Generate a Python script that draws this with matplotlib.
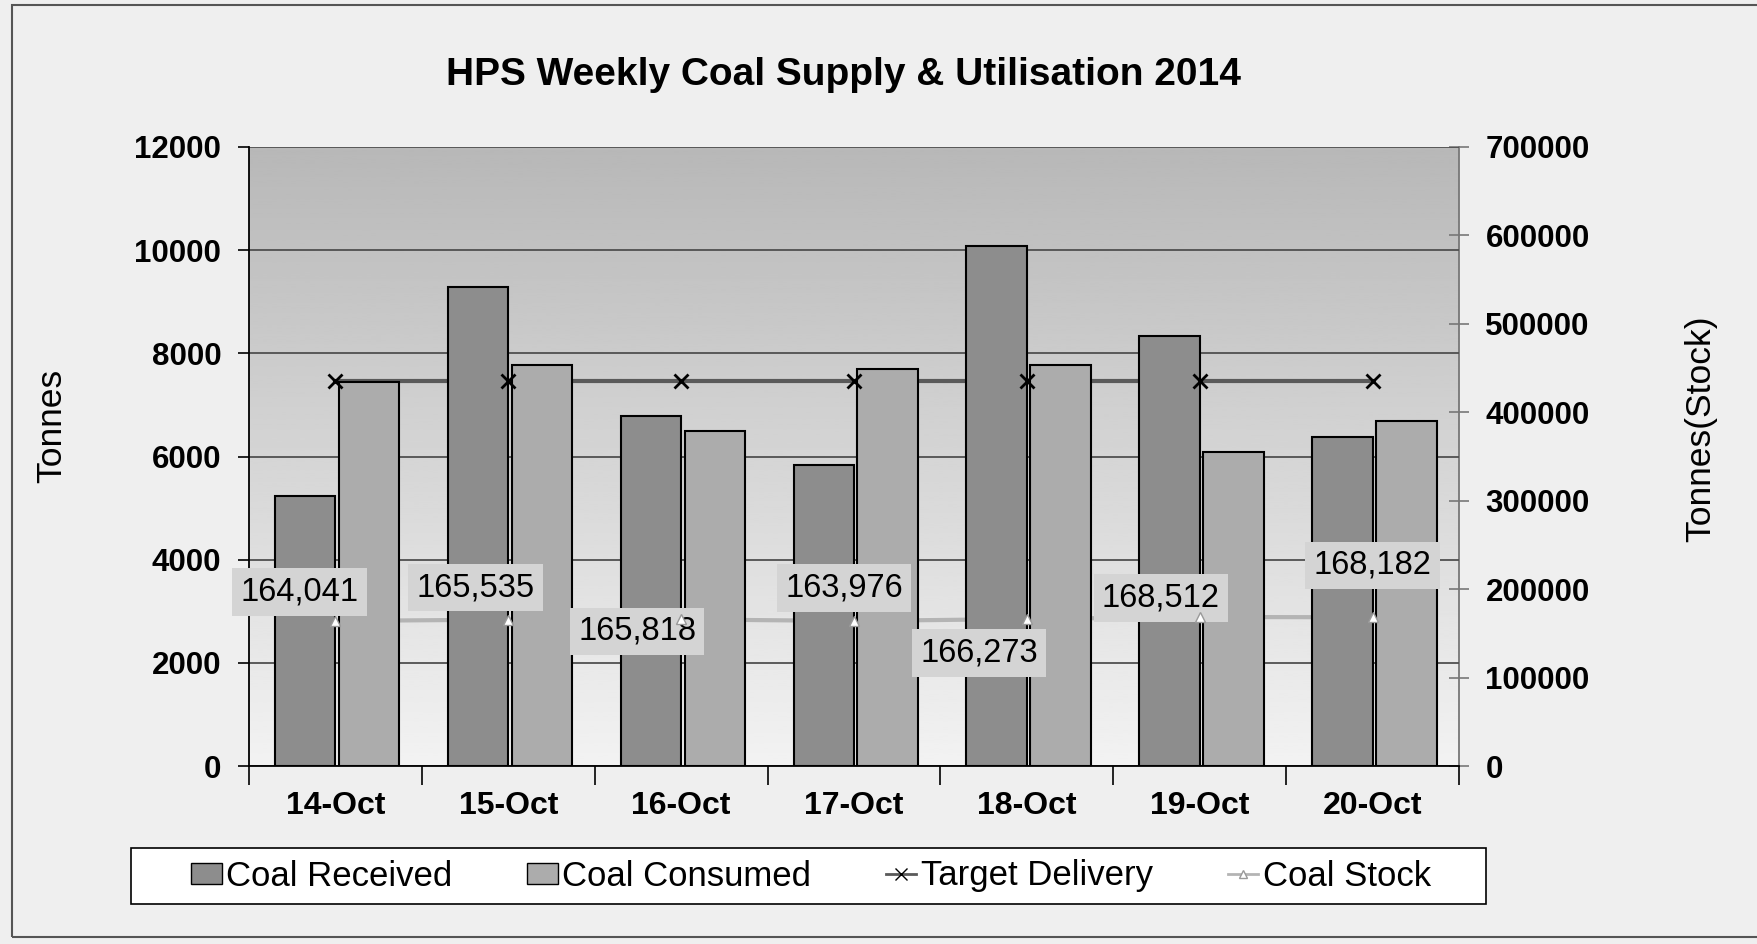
import numpy as np
import matplotlib
matplotlib.use('Agg')
import matplotlib.pyplot as plt
from matplotlib.patches import Patch, Rectangle
from matplotlib.lines import Line2D

plt.rcParams['font.family'] = ['Liberation Sans', 'DejaVu Sans']

# data
days = ['14-Oct', '15-Oct', '16-Oct', '17-Oct', '18-Oct', '19-Oct', '20-Oct']
coal_received = [5240, 9290, 6790, 5840, 10080, 8340, 6370]
coal_consumed = [7440, 7770, 6500, 7700, 7770, 6090, 6690]
target_delivery = [7465, 7465, 7465, 7465, 7465, 7465, 7465]
coal_stock = [164041, 165535, 165818, 163976, 166273, 168512, 168182]

# where each stock label sits relative to its point (pixels)
label_offsets = [(-36, 29), (-33, 32), (-44, -12), (-10, 33), (-48, -34), (-39, 19), (0, 52)]

x = np.arange(len(days))
W, H = 1757, 944
fig = plt.figure(figsize=(W / 100, H / 100), dpi=100, facecolor='#efefef')

left, right, top, bottom = 249, 1459, 147, 766
ax = fig.add_axes([left / W, 1 - bottom / H, (right - left) / W, (bottom - top) / H])
ax2 = ax.twinx()
ax3 = ax.twinx()
ax2.set_zorder(1)
ax.set_zorder(2)
ax3.set_zorder(3)
ax.patch.set_visible(False)
ax3.patch.set_visible(False)

# plot area gradient (behind everything)
grad = np.linspace(0.72, 0.95, 256).reshape(-1, 1)
ax2.imshow(grad, cmap='gray', vmin=0, vmax=1, aspect='auto',
           extent=(-0.5, 6.5, 0, 700000), origin='upper', zorder=0)

# stock line, hidden behind the bars
ax2.plot(x, coal_stock, color='#b4b4b4', lw=3, zorder=1)

# bars + target on primary axis
ax.bar(x - 0.35, coal_received, width=0.35, align='edge', color='#8d8d8d',
       edgecolor='black', lw=1.5, zorder=3)
ax.bar(x + 0.02, coal_consumed, width=0.35, align='edge', color='#acacac',
       edgecolor='black', lw=1.5, zorder=3)
ax.plot(x, target_delivery, color='#5a5a5a', lw=3, zorder=2)
ax.plot(x, target_delivery, ls='none', marker='x', color='black', ms=10, mew=2, zorder=4)

# stock markers and labels on top
ax3.plot(x, coal_stock, ls='none', marker='^', ms=7, mfc='white', mec='#999999', zorder=4)
for i, v in enumerate(coal_stock):
    ax3.annotate(f'{v:,}', xy=(i, v), xytext=label_offsets[i], textcoords='offset pixels',
                 ha='center', va='center', fontsize=23.5, color='black',
                 bbox=dict(boxstyle='square,pad=0.25', fc='#d4d4d4', ec='none'))

ax.set_xlim(-0.5, 6.5)
ax.set_ylim(0, 12000)
ax2.set_ylim(0, 700000)
ax3.set_ylim(0, 700000)

ax.set_yticks(np.arange(0, 12001, 2000))
ax.yaxis.grid(True, color='#505050', lw=1.3)
ax.set_axisbelow(True)
ax.tick_params(axis='y', direction='out', length=8, width=1.2, labelsize=22.5, pad=12)
for lbl in ax.get_yticklabels():
    lbl.set_fontweight('bold')

ax.set_xticks(np.arange(-0.5, 7, 1))
ax.set_xticklabels([])
ax.set_xticks(x, minor=True)
ax.set_xticklabels(days, minor=True)
ax.tick_params(axis='x', which='major', direction='out', length=14, width=1.2)
ax.tick_params(axis='x', which='minor', length=0, labelsize=23, pad=18)
for lbl in ax.get_xticklabels(minor=True):
    lbl.set_fontweight('bold')

ax2.set_yticks(np.arange(0, 700001, 100000))
ax2.tick_params(axis='y', direction='inout', length=14, width=1.2, labelsize=22.5, pad=12,
                color='#777777')
for lbl in ax2.get_yticklabels():
    lbl.set_fontweight('bold')

ax3.yaxis.set_visible(False)
for s in ax3.spines.values():
    s.set_visible(False)
for s in ['top', 'right']:
    ax.spines[s].set_visible(False)
ax.spines['left'].set_linewidth(1.3)
ax.spines['bottom'].set_linewidth(1.3)
ax2.spines['top'].set_visible(False)
ax2.spines['left'].set_visible(False)
ax2.spines['bottom'].set_visible(False)
ax2.spines['right'].set_color('#777777')
ax2.spines['right'].set_linewidth(1.3)

ax.set_ylabel('Tonnes', fontsize=25.5)
ax.yaxis.set_label_coords(-0.149, 0.55)
ax2.set_ylabel('Tonnes(Stock)', fontsize=25.5)
ax2.yaxis.set_label_coords(1.186, 0.545)

fig.text(843 / W, 1 - 75 / H, 'HPS Weekly Coal Supply & Utilisation 2014',
         ha='center', va='center', fontsize=28, fontweight='bold')

# legend
handles = [
    Patch(fc='#8d8d8d', ec='black', lw=1),
    Patch(fc='#acacac', ec='black', lw=1),
    Line2D([], [], color='#5a5a5a', lw=2, marker='x', mec='black', ms=8),
    Line2D([], [], color='#b4b4b4', lw=2, marker='^', mfc='white', mec='#999999', ms=6),
]
labels = ['Coal Received', 'Coal Consumed', 'Target Delivery', 'Coal Stock']
fig.legend(handles, labels, loc='center', ncol=4,
           bbox_to_anchor=(811 / W, 1 - 876 / H),
           fontsize=25, frameon=False, borderaxespad=0,
           handlelength=0.88, handleheight=0.55, handletextpad=0.13,
           columnspacing=2.15, borderpad=0.2)
fig.patches.append(Rectangle((131 / W, 1 - 904 / H), 1355 / W, 56 / H,
                             transform=fig.transFigure, fc='white',
                             ec='black', lw=1.2, zorder=0))

# outer chart frame
fig.patches.append(Rectangle((12 / W, 1 - 937 / H), 1.0, (937 - 5) / H,
                             transform=fig.transFigure, fill=False,
                             ec='#555555', lw=1.5))

fig.savefig('out.png', dpi=100, facecolor=fig.get_facecolor())
